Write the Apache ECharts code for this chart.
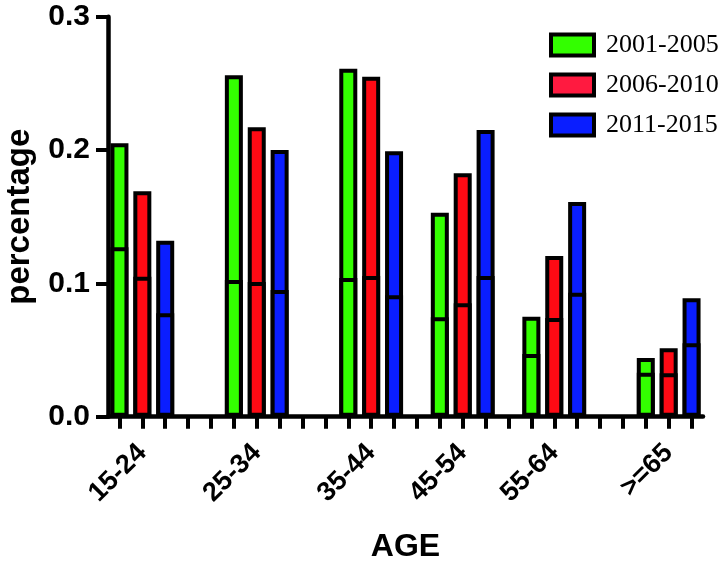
<!DOCTYPE html>
<html>
<head>
<meta charset="utf-8">
<script src="https://cdn.jsdelivr.net/npm/echarts@6/dist/echarts.min.js"></script>
<style>html,body{margin:0;padding:0;background:#fff}#c{width:726px;height:563px}</style>
</head>
<body>
<div id="c"></div>
<script>
var ageGroups = ['15-24', '25-34', '35-44', '45-54', '55-64', '>=65'];
var gapsAfter = [2, 2, 1, 1, 2, 0];
var periods = ['2001-2005', '2006-2010', '2011-2015'];
var colors = ['#33FF00', '#FF0A14', '#0A1EFF'];
var legendColors = ['#33FF00', '#FF1A40', '#0A1EFF'];

var total2001 = [0.205, 0.256, 0.261, 0.153, 0.075, 0.044];
var lower2001 = [0.127, 0.1025, 0.104, 0.0745, 0.047, 0.033];
var total2006 = [0.169, 0.217, 0.255, 0.1825, 0.1205, 0.0513];
var lower2006 = [0.105, 0.101, 0.1055, 0.085, 0.074, 0.0325];
var total2011 = [0.132, 0.200, 0.199, 0.215, 0.161, 0.0888];
var lower2011 = [0.0776, 0.095, 0.091, 0.1055, 0.093, 0.055];

var yTicks = ['0.0', '0.1', '0.2', '0.3'];

var totals = [total2001, total2006, total2011];
var lowers = [lower2001, lower2006, lower2011];

var cats = [];
var slotOf = [];
ageGroups.forEach(function (g, gi) {
  slotOf[gi] = [];
  periods.forEach(function (p, pi) {
    slotOf[gi][pi] = cats.length;
    cats.push(pi === 1 ? g : ' ');
  });
  for (var k = 0; k < gapsAfter[gi]; k++) cats.push(' ');
});

function slotData(values, pi) {
  var d = cats.map(function () { return null; });
  ageGroups.forEach(function (g, gi) { d[slotOf[gi][pi]] = values[gi]; });
  return d;
}

var series = [];
[totals, lowers].forEach(function (src) {
  periods.forEach(function (p, pi) {
    series.push({
      name: p,
      type: 'bar',
      barWidth: 18,
      barGap: '-100%',
      data: slotData(src[pi], pi),
      itemStyle: { color: colors[pi], borderColor: '#000', borderWidth: 4 },
      emphasis: { disabled: true }
    });
  });
});

var chart = echarts.init(document.getElementById('c'));
chart.setOption({
  animation: false,
  backgroundColor: '#fff',
  grid: { left: 108, right: 23, top: 16.7, bottom: 146.3, containLabel: false, outerBoundsMode: 'none' },
  legend: {
    data: periods.map(function (p, i) {
      return { name: p, itemStyle: { color: legendColors[i], borderColor: '#000', borderWidth: 4 } };
    }),
    orient: 'vertical',
    left: 544,
    top: 27,
    itemWidth: 43,
    itemHeight: 21,
    itemGap: 14,
    icon: 'rect',
    textStyle: { fontFamily: 'Liberation Serif', fontSize: 26, color: '#000', padding: [0, 0, 0, 7] }
  },
  xAxis: {
    type: 'category',
    data: cats,
    name: 'AGE',
    nameLocation: 'middle',
    nameGap: 114,
    nameTextStyle: { fontFamily: 'Liberation Sans', fontWeight: 'bold', fontSize: 32, color: '#000' },
    axisLine: { show: true, onZero: false, lineStyle: { color: '#000', width: 4.5 } },
    axisTick: { show: true, alignWithLabel: true, interval: 0, length: 12, lineStyle: { color: '#000', width: 4 } },
    axisLabel: {
      show: true, interval: 0, rotate: 45, margin: 32,
      fontFamily: 'Liberation Sans', fontWeight: 'bold', fontSize: 27, color: '#000'
    },
    splitLine: { show: false }
  },
  yAxis: {
    type: 'value',
    min: 0, max: 0.3, interval: 0.1,
    name: 'percentage',
    nameLocation: 'middle',
    nameGap: 72,
    nameRotate: 90,
    nameTextStyle: { fontFamily: 'Liberation Sans', fontWeight: 'bold', fontSize: 33, color: '#000' },
    axisLine: { show: true, lineStyle: { color: '#000', width: 4.5 } },
    axisTick: { show: true, length: 12, lineStyle: { color: '#000', width: 4 } },
    axisLabel: {
      margin: 18,
      fontFamily: 'Liberation Sans', fontWeight: 'bold', fontSize: 30, color: '#000',
      formatter: function (v) { return yTicks[Math.round(v * 10)]; }
    },
    splitLine: { show: false }
  },
  series: series
});
</script>
</body>
</html>
